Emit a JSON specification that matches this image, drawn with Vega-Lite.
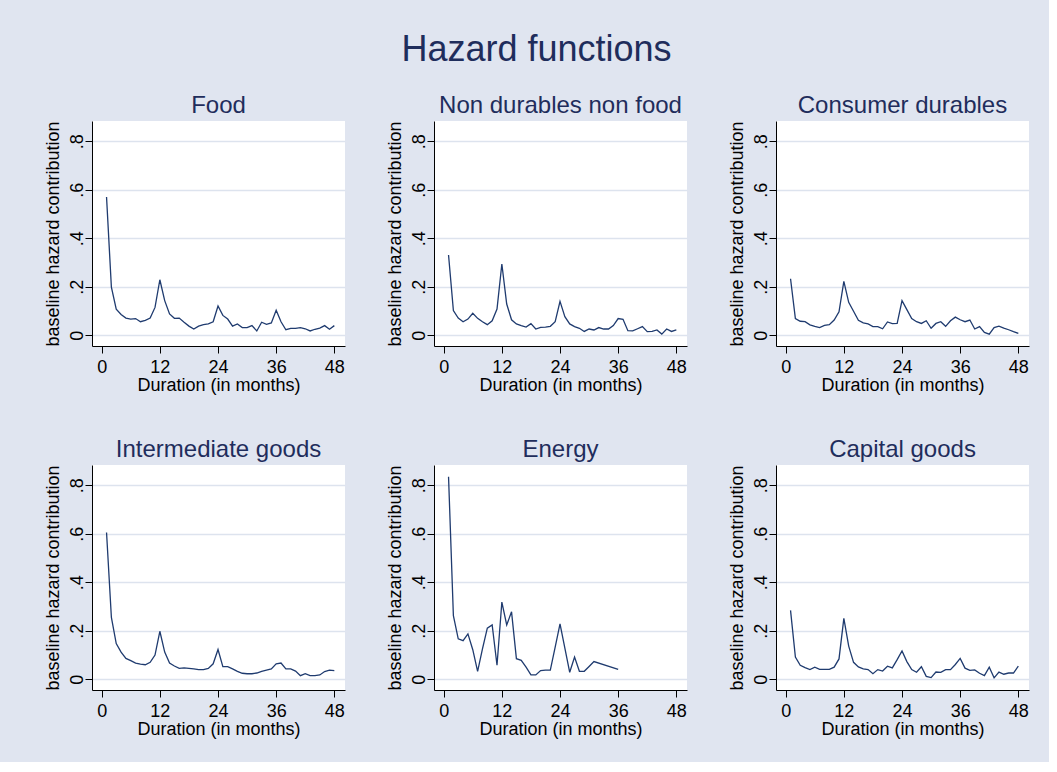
{
  "$schema": "https://vega.github.io/schema/vega-lite/v6.json",
  "background": "#e0e5f0",
  "padding": {"left": 44, "top": 31, "right": 20, "bottom": 24},
  "title": {"text": "Hazard functions", "fontSize": 36, "font": "Liberation Sans", "fontWeight": "normal", "color": "#1f2d5c", "anchor": "middle", "offset": 25},
  "data": {"values": [
    {"sector":"Food","month":1,"hazard":0.57},{"sector":"Food","month":2,"hazard":0.198},{"sector":"Food","month":3,"hazard":0.108},{"sector":"Food","month":4,"hazard":0.086},{"sector":"Food","month":5,"hazard":0.071},{"sector":"Food","month":6,"hazard":0.067},{"sector":"Food","month":7,"hazard":0.069},{"sector":"Food","month":8,"hazard":0.056},{"sector":"Food","month":9,"hazard":0.062},{"sector":"Food","month":10,"hazard":0.071},{"sector":"Food","month":11,"hazard":0.115},{"sector":"Food","month":12,"hazard":0.229},{"sector":"Food","month":13,"hazard":0.143},{"sector":"Food","month":14,"hazard":0.088},{"sector":"Food","month":15,"hazard":0.070},{"sector":"Food","month":16,"hazard":0.071},{"sector":"Food","month":17,"hazard":0.054},{"sector":"Food","month":18,"hazard":0.038},{"sector":"Food","month":19,"hazard":0.026},{"sector":"Food","month":20,"hazard":0.038},{"sector":"Food","month":21,"hazard":0.044},{"sector":"Food","month":22,"hazard":0.047},{"sector":"Food","month":23,"hazard":0.056},{"sector":"Food","month":24,"hazard":0.121},{"sector":"Food","month":25,"hazard":0.082},{"sector":"Food","month":26,"hazard":0.067},{"sector":"Food","month":27,"hazard":0.038},{"sector":"Food","month":28,"hazard":0.047},{"sector":"Food","month":29,"hazard":0.032},{"sector":"Food","month":30,"hazard":0.032},{"sector":"Food","month":31,"hazard":0.040},{"sector":"Food","month":32,"hazard":0.018},{"sector":"Food","month":33,"hazard":0.054},{"sector":"Food","month":34,"hazard":0.045},{"sector":"Food","month":35,"hazard":0.051},{"sector":"Food","month":36,"hazard":0.103},{"sector":"Food","month":37,"hazard":0.056},{"sector":"Food","month":38,"hazard":0.023},{"sector":"Food","month":39,"hazard":0.029},{"sector":"Food","month":40,"hazard":0.029},{"sector":"Food","month":41,"hazard":0.032},{"sector":"Food","month":42,"hazard":0.027},{"sector":"Food","month":43,"hazard":0.018},{"sector":"Food","month":44,"hazard":0.025},{"sector":"Food","month":45,"hazard":0.030},{"sector":"Food","month":46,"hazard":0.040},{"sector":"Food","month":47,"hazard":0.025},{"sector":"Food","month":48,"hazard":0.040},
    {"sector":"Non durables non food","month":1,"hazard":0.331},{"sector":"Non durables non food","month":2,"hazard":0.102},{"sector":"Non durables non food","month":3,"hazard":0.071},{"sector":"Non durables non food","month":4,"hazard":0.056},{"sector":"Non durables non food","month":5,"hazard":0.067},{"sector":"Non durables non food","month":6,"hazard":0.091},{"sector":"Non durables non food","month":7,"hazard":0.070},{"sector":"Non durables non food","month":8,"hazard":0.056},{"sector":"Non durables non food","month":9,"hazard":0.044},{"sector":"Non durables non food","month":10,"hazard":0.060},{"sector":"Non durables non food","month":11,"hazard":0.108},{"sector":"Non durables non food","month":12,"hazard":0.294},{"sector":"Non durables non food","month":13,"hazard":0.129},{"sector":"Non durables non food","month":14,"hazard":0.064},{"sector":"Non durables non food","month":15,"hazard":0.047},{"sector":"Non durables non food","month":16,"hazard":0.040},{"sector":"Non durables non food","month":17,"hazard":0.034},{"sector":"Non durables non food","month":18,"hazard":0.048},{"sector":"Non durables non food","month":19,"hazard":0.026},{"sector":"Non durables non food","month":20,"hazard":0.033},{"sector":"Non durables non food","month":21,"hazard":0.034},{"sector":"Non durables non food","month":22,"hazard":0.037},{"sector":"Non durables non food","month":23,"hazard":0.056},{"sector":"Non durables non food","month":24,"hazard":0.140},{"sector":"Non durables non food","month":25,"hazard":0.077},{"sector":"Non durables non food","month":26,"hazard":0.047},{"sector":"Non durables non food","month":27,"hazard":0.036},{"sector":"Non durables non food","month":28,"hazard":0.029},{"sector":"Non durables non food","month":29,"hazard":0.016},{"sector":"Non durables non food","month":30,"hazard":0.026},{"sector":"Non durables non food","month":31,"hazard":0.022},{"sector":"Non durables non food","month":32,"hazard":0.032},{"sector":"Non durables non food","month":33,"hazard":0.026},{"sector":"Non durables non food","month":34,"hazard":0.026},{"sector":"Non durables non food","month":35,"hazard":0.040},{"sector":"Non durables non food","month":36,"hazard":0.069},{"sector":"Non durables non food","month":37,"hazard":0.066},{"sector":"Non durables non food","month":38,"hazard":0.019},{"sector":"Non durables non food","month":39,"hazard":0.018},{"sector":"Non durables non food","month":40,"hazard":0.027},{"sector":"Non durables non food","month":41,"hazard":0.036},{"sector":"Non durables non food","month":42,"hazard":0.015},{"sector":"Non durables non food","month":43,"hazard":0.016},{"sector":"Non durables non food","month":44,"hazard":0.022},{"sector":"Non durables non food","month":45,"hazard":0.005},{"sector":"Non durables non food","month":46,"hazard":0.026},{"sector":"Non durables non food","month":47,"hazard":0.016},{"sector":"Non durables non food","month":48,"hazard":0.022},
    {"sector":"Consumer durables","month":1,"hazard":0.233},{"sector":"Consumer durables","month":2,"hazard":0.069},{"sector":"Consumer durables","month":3,"hazard":0.058},{"sector":"Consumer durables","month":4,"hazard":0.056},{"sector":"Consumer durables","month":5,"hazard":0.043},{"sector":"Consumer durables","month":6,"hazard":0.037},{"sector":"Consumer durables","month":7,"hazard":0.032},{"sector":"Consumer durables","month":8,"hazard":0.041},{"sector":"Consumer durables","month":9,"hazard":0.044},{"sector":"Consumer durables","month":10,"hazard":0.063},{"sector":"Consumer durables","month":11,"hazard":0.097},{"sector":"Consumer durables","month":12,"hazard":0.222},{"sector":"Consumer durables","month":13,"hazard":0.136},{"sector":"Consumer durables","month":14,"hazard":0.099},{"sector":"Consumer durables","month":15,"hazard":0.062},{"sector":"Consumer durables","month":16,"hazard":0.051},{"sector":"Consumer durables","month":17,"hazard":0.047},{"sector":"Consumer durables","month":18,"hazard":0.036},{"sector":"Consumer durables","month":19,"hazard":0.036},{"sector":"Consumer durables","month":20,"hazard":0.027},{"sector":"Consumer durables","month":21,"hazard":0.055},{"sector":"Consumer durables","month":22,"hazard":0.048},{"sector":"Consumer durables","month":23,"hazard":0.049},{"sector":"Consumer durables","month":24,"hazard":0.143},{"sector":"Consumer durables","month":25,"hazard":0.106},{"sector":"Consumer durables","month":26,"hazard":0.069},{"sector":"Consumer durables","month":27,"hazard":0.056},{"sector":"Consumer durables","month":28,"hazard":0.049},{"sector":"Consumer durables","month":29,"hazard":0.060},{"sector":"Consumer durables","month":30,"hazard":0.029},{"sector":"Consumer durables","month":31,"hazard":0.049},{"sector":"Consumer durables","month":32,"hazard":0.056},{"sector":"Consumer durables","month":33,"hazard":0.037},{"sector":"Consumer durables","month":34,"hazard":0.060},{"sector":"Consumer durables","month":35,"hazard":0.075},{"sector":"Consumer durables","month":36,"hazard":0.064},{"sector":"Consumer durables","month":37,"hazard":0.056},{"sector":"Consumer durables","month":38,"hazard":0.063},{"sector":"Consumer durables","month":39,"hazard":0.026},{"sector":"Consumer durables","month":40,"hazard":0.036},{"sector":"Consumer durables","month":41,"hazard":0.012},{"sector":"Consumer durables","month":42,"hazard":0.005},{"sector":"Consumer durables","month":43,"hazard":0.032},{"sector":"Consumer durables","month":44,"hazard":0.038},{"sector":"Consumer durables","month":45,"hazard":0.030},{"sector":"Consumer durables","month":46,"hazard":0.023},{"sector":"Consumer durables","month":47,"hazard":0.015},{"sector":"Consumer durables","month":48,"hazard":0.008},
    {"sector":"Intermediate goods","month":1,"hazard":0.605},{"sector":"Intermediate goods","month":2,"hazard":0.255},{"sector":"Intermediate goods","month":3,"hazard":0.147},{"sector":"Intermediate goods","month":4,"hazard":0.112},{"sector":"Intermediate goods","month":5,"hazard":0.086},{"sector":"Intermediate goods","month":6,"hazard":0.077},{"sector":"Intermediate goods","month":7,"hazard":0.067},{"sector":"Intermediate goods","month":8,"hazard":0.063},{"sector":"Intermediate goods","month":9,"hazard":0.060},{"sector":"Intermediate goods","month":10,"hazard":0.070},{"sector":"Intermediate goods","month":11,"hazard":0.100},{"sector":"Intermediate goods","month":12,"hazard":0.198},{"sector":"Intermediate goods","month":13,"hazard":0.112},{"sector":"Intermediate goods","month":14,"hazard":0.067},{"sector":"Intermediate goods","month":15,"hazard":0.055},{"sector":"Intermediate goods","month":16,"hazard":0.045},{"sector":"Intermediate goods","month":17,"hazard":0.047},{"sector":"Intermediate goods","month":18,"hazard":0.045},{"sector":"Intermediate goods","month":19,"hazard":0.043},{"sector":"Intermediate goods","month":20,"hazard":0.040},{"sector":"Intermediate goods","month":21,"hazard":0.040},{"sector":"Intermediate goods","month":22,"hazard":0.045},{"sector":"Intermediate goods","month":23,"hazard":0.064},{"sector":"Intermediate goods","month":24,"hazard":0.123},{"sector":"Intermediate goods","month":25,"hazard":0.052},{"sector":"Intermediate goods","month":26,"hazard":0.052},{"sector":"Intermediate goods","month":27,"hazard":0.043},{"sector":"Intermediate goods","month":28,"hazard":0.033},{"sector":"Intermediate goods","month":29,"hazard":0.025},{"sector":"Intermediate goods","month":30,"hazard":0.023},{"sector":"Intermediate goods","month":31,"hazard":0.023},{"sector":"Intermediate goods","month":32,"hazard":0.026},{"sector":"Intermediate goods","month":33,"hazard":0.033},{"sector":"Intermediate goods","month":34,"hazard":0.038},{"sector":"Intermediate goods","month":35,"hazard":0.043},{"sector":"Intermediate goods","month":36,"hazard":0.064},{"sector":"Intermediate goods","month":37,"hazard":0.067},{"sector":"Intermediate goods","month":38,"hazard":0.043},{"sector":"Intermediate goods","month":39,"hazard":0.043},{"sector":"Intermediate goods","month":40,"hazard":0.034},{"sector":"Intermediate goods","month":41,"hazard":0.015},{"sector":"Intermediate goods","month":42,"hazard":0.023},{"sector":"Intermediate goods","month":43,"hazard":0.015},{"sector":"Intermediate goods","month":44,"hazard":0.015},{"sector":"Intermediate goods","month":45,"hazard":0.018},{"sector":"Intermediate goods","month":46,"hazard":0.032},{"sector":"Intermediate goods","month":47,"hazard":0.038},{"sector":"Intermediate goods","month":48,"hazard":0.036},
    {"sector":"Energy","month":1,"hazard":0.835},{"sector":"Energy","month":2,"hazard":0.262},{"sector":"Energy","month":3,"hazard":0.167},{"sector":"Energy","month":4,"hazard":0.159},{"sector":"Energy","month":5,"hazard":0.187},{"sector":"Energy","month":6,"hazard":0.122},{"sector":"Energy","month":7,"hazard":0.033},{"sector":"Energy","month":8,"hazard":0.125},{"sector":"Energy","month":9,"hazard":0.211},{"sector":"Energy","month":10,"hazard":0.224},{"sector":"Energy","month":11,"hazard":0.058},{"sector":"Energy","month":12,"hazard":0.318},{"sector":"Energy","month":13,"hazard":0.224},{"sector":"Energy","month":14,"hazard":0.278},{"sector":"Energy","month":15,"hazard":0.085},{"sector":"Energy","month":16,"hazard":0.078},{"sector":"Energy","month":17,"hazard":0.050},{"sector":"Energy","month":18,"hazard":0.018},{"sector":"Energy","month":19,"hazard":0.018},{"sector":"Energy","month":20,"hazard":0.036},{"sector":"Energy","month":21,"hazard":0.038},{"sector":"Energy","month":22,"hazard":0.038},{"sector":"Energy","month":23,"hazard":0.133},{"sector":"Energy","month":24,"hazard":0.228},{"sector":"Energy","month":25,"hazard":0.129},{"sector":"Energy","month":26,"hazard":0.029},{"sector":"Energy","month":27,"hazard":0.092},{"sector":"Energy","month":28,"hazard":0.033},{"sector":"Energy","month":29,"hazard":0.033},{"sector":"Energy","month":30,"hazard":0.053},{"sector":"Energy","month":31,"hazard":0.073},{"sector":"Energy","month":36,"hazard":0.041},
    {"sector":"Capital goods","month":1,"hazard":0.284},{"sector":"Capital goods","month":2,"hazard":0.092},{"sector":"Capital goods","month":3,"hazard":0.058},{"sector":"Capital goods","month":4,"hazard":0.048},{"sector":"Capital goods","month":5,"hazard":0.040},{"sector":"Capital goods","month":6,"hazard":0.050},{"sector":"Capital goods","month":7,"hazard":0.041},{"sector":"Capital goods","month":8,"hazard":0.041},{"sector":"Capital goods","month":9,"hazard":0.041},{"sector":"Capital goods","month":10,"hazard":0.050},{"sector":"Capital goods","month":11,"hazard":0.084},{"sector":"Capital goods","month":12,"hazard":0.251},{"sector":"Capital goods","month":13,"hazard":0.137},{"sector":"Capital goods","month":14,"hazard":0.070},{"sector":"Capital goods","month":15,"hazard":0.051},{"sector":"Capital goods","month":16,"hazard":0.043},{"sector":"Capital goods","month":17,"hazard":0.040},{"sector":"Capital goods","month":18,"hazard":0.023},{"sector":"Capital goods","month":19,"hazard":0.040},{"sector":"Capital goods","month":20,"hazard":0.034},{"sector":"Capital goods","month":21,"hazard":0.054},{"sector":"Capital goods","month":22,"hazard":0.047},{"sector":"Capital goods","month":23,"hazard":0.081},{"sector":"Capital goods","month":24,"hazard":0.117},{"sector":"Capital goods","month":25,"hazard":0.073},{"sector":"Capital goods","month":26,"hazard":0.040},{"sector":"Capital goods","month":27,"hazard":0.029},{"sector":"Capital goods","month":28,"hazard":0.052},{"sector":"Capital goods","month":29,"hazard":0.012},{"sector":"Capital goods","month":30,"hazard":0.007},{"sector":"Capital goods","month":31,"hazard":0.030},{"sector":"Capital goods","month":32,"hazard":0.029},{"sector":"Capital goods","month":33,"hazard":0.040},{"sector":"Capital goods","month":34,"hazard":0.040},{"sector":"Capital goods","month":35,"hazard":0.061},{"sector":"Capital goods","month":36,"hazard":0.086},{"sector":"Capital goods","month":37,"hazard":0.046},{"sector":"Capital goods","month":38,"hazard":0.037},{"sector":"Capital goods","month":39,"hazard":0.039},{"sector":"Capital goods","month":40,"hazard":0.025},{"sector":"Capital goods","month":41,"hazard":0.015},{"sector":"Capital goods","month":42,"hazard":0.050},{"sector":"Capital goods","month":43,"hazard":0.006},{"sector":"Capital goods","month":44,"hazard":0.030},{"sector":"Capital goods","month":45,"hazard":0.021},{"sector":"Capital goods","month":46,"hazard":0.026},{"sector":"Capital goods","month":47,"hazard":0.026},{"sector":"Capital goods","month":48,"hazard":0.054}
  ]},
  "facet": {
    "field": "sector", "type": "nominal",
    "sort": ["Food", "Non durables non food", "Consumer durables", "Intermediate goods", "Energy", "Capital goods"],
    "header": {"title": null, "labelFontSize": 24, "labelFont": "Liberation Sans", "labelColor": "#1f2d5c", "labelPadding": 3}
  },
  "columns": 3,
  "spacing": {"column": 41, "row": 43},
  "resolve": {"axis": {"x": "independent", "y": "independent"}},
  "spec": {
    "width": 253,
    "height": 225,
    "mark": {"type": "line", "color": "#1f3b6f", "strokeWidth": 1.3, "clip": true},
    "encoding": {
      "x": {"field": "month", "type": "quantitative", "scale": {"domain": [-2, 50.2], "nice": false, "zero": false},
            "axis": {"values": [0, 12, 24, 36, 48], "title": "Duration (in months)", "grid": false, "labelPadding": 5, "titlePadding": 0}},
      "y": {"field": "hazard", "type": "quantitative", "scale": {"domain": [-0.044, 0.883], "nice": false, "zero": false},
            "axis": {"values": [0, 0.2, 0.4, 0.6, 0.8], "title": "baseline hazard contribution", "grid": true, "labelAngle": -90, "labelAlign": "center", "labelBaseline": "alphabetic", "labelPadding": 3, "titlePadding": 6,
                     "labelExpr": "datum.value == 0 ? '0' : replace(format(datum.value, '.1f'), '0.', '.')"}}
    }
  },
  "config": {
    "view": {"stroke": null, "fill": "white"},
    "axis": {"labelFont": "Liberation Sans", "titleFont": "Liberation Sans", "labelFontSize": 18, "titleFontSize": 18, "titleFontWeight": "normal", "labelColor": "black", "titleColor": "black", "domainColor": "black", "domainWidth": 1, "tickColor": "black", "tickSize": 7, "gridColor": "#dde3ee", "gridWidth": 1.5, "labelOverlap": false}
  }
}
